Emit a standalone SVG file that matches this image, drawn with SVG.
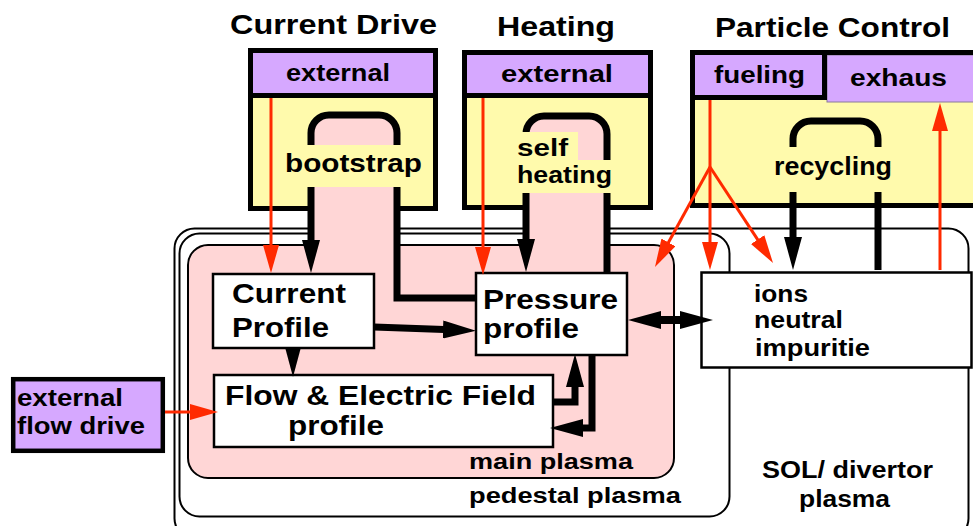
<svg xmlns="http://www.w3.org/2000/svg" width="973" height="526" viewBox="0 0 973 526">
<defs>
<style>
text{font-family:"Liberation Sans",Arial,sans-serif;font-weight:bold;fill:#000}
.t28{font-size:28px}
.t24{font-size:24px}
.t22{font-size:22px}
.outline{fill:none;stroke:#000;stroke-width:2}
.hdr{fill:#D6A8FF;stroke:#000;stroke-width:5}
.yel{fill:#FFFAAC;stroke:#000;stroke-width:5}
.box{fill:#fff;stroke:#000;stroke-width:2.5}
.band{fill:#FFD6D6;stroke:none}
.red{fill:none;stroke:#FF2A00;stroke-width:3}
.blk{fill:none;stroke:#000;stroke-width:7}
.lblbg{fill:#FFFAAC;stroke:none}
</style>
<marker id="redHead" viewBox="0 0 28 16" markerWidth="28" markerHeight="16" refX="1" refY="8" markerUnits="userSpaceOnUse" orient="auto">
<path d="M0,0 L28,8 L0,16 z" fill="#FF2A00"/>
</marker>
<marker id="blkHead" viewBox="0 0 33 18" markerWidth="33" markerHeight="18" refX="1" refY="9" markerUnits="userSpaceOnUse" orient="auto">
<path d="M0,0 L33,9 L0,18 z" fill="#000"/>
</marker>
<marker id="blkHead2" viewBox="0 0 33 18" markerWidth="33" markerHeight="18" refX="1" refY="9" markerUnits="userSpaceOnUse" orient="auto-start-reverse">
<path d="M0,0 L33,9 L0,18 z" fill="#000"/>
</marker>
</defs>
<rect width="973" height="526" fill="#fff"/>

<!-- plasma regions -->
<g id="sol-divertor">
<rect class="outline" x="174.5" y="228.5" width="794" height="310" rx="20"/>
<text x="762" y="478" textLength="171" lengthAdjust="spacingAndGlyphs" style="font-size:23px">SOL/ divertor</text>
<text x="799" y="507" textLength="91" lengthAdjust="spacingAndGlyphs" style="font-size:23px">plasma</text>
</g>
<g id="pedestal-plasma">
<rect class="outline" x="179.5" y="233.5" width="550" height="283" rx="20"/>
<text class="t22" x="469" y="503" textLength="212" lengthAdjust="spacingAndGlyphs">pedestal plasma</text>
</g>
<g id="main-plasma">
<rect x="188" y="245" width="486" height="233" rx="20" fill="#FFD6D6" stroke="#000" stroke-width="2"/>
<text class="t22" x="469" y="469" textLength="164" lengthAdjust="spacingAndGlyphs">main plasma</text>
</g>

<!-- top control boxes -->
<g id="current-drive">
<text class="t28" x="230" y="34" textLength="207" lengthAdjust="spacingAndGlyphs">Current Drive</text>
<rect class="yel" x="250.5" y="50.5" width="185" height="158"/>
<rect class="hdr" x="250.5" y="50.5" width="185" height="45"/>
<text class="t24" x="286" y="81" textLength="104" lengthAdjust="spacingAndGlyphs">external</text>
</g>
<g id="heating">
<text class="t28" x="497" y="36" textLength="118" lengthAdjust="spacingAndGlyphs">Heating</text>
<rect class="yel" x="464.5" y="52.5" width="186" height="155"/>
<rect class="hdr" x="464.5" y="52.5" width="186" height="43"/>
<text class="t24" x="501" y="82" textLength="112" lengthAdjust="spacingAndGlyphs">external</text>
</g>
<g id="particle-control">
<text class="t28" x="715" y="37" textLength="235" lengthAdjust="spacingAndGlyphs">Particle Control</text>
<rect class="yel" x="692.5" y="52.5" width="290" height="153"/>
<rect x="827" y="55" width="150" height="47" fill="#D6A8FF" stroke="#8a7a9a" stroke-width="1"/>
<line x1="827" y1="52.5" x2="973" y2="52.5" stroke="#000" stroke-width="5"/>
<text class="t24" x="850" y="86" textLength="97" lengthAdjust="spacingAndGlyphs">exhaus</text>
<rect x="692.5" y="52.5" width="132" height="45" fill="#D6A8FF" stroke="#000" stroke-width="5"/>
<text class="t24" x="714" y="83" textLength="91" lengthAdjust="spacingAndGlyphs">fueling</text>
</g>
<g id="external-flow-drive">
<rect x="13.2" y="379.2" width="149.6" height="71.6" fill="#D6A8FF" stroke="#000" stroke-width="4.5"/>
<text class="t24" x="17" y="406" textLength="106" lengthAdjust="spacingAndGlyphs">external</text>
<text class="t24" x="17" y="434" textLength="128" lengthAdjust="spacingAndGlyphs">flow drive</text>
</g>

<!-- loop bands -->
<g id="loop-bands">
<rect class="band" x="311" y="115" width="86" height="145" rx="18"/>
<rect class="band" x="526" y="116" width="81" height="157" rx="18"/>
</g>

<!-- profile nodes -->
<g id="current-profile">
<rect class="box" x="213" y="274" width="161" height="74"/>
<text class="t28" x="232" y="303" textLength="114" lengthAdjust="spacingAndGlyphs">Current</text>
<text class="t28" x="232" y="337" textLength="97" lengthAdjust="spacingAndGlyphs">Profile</text>
</g>
<g id="pressure-profile">
<rect class="box" x="476" y="273" width="151" height="82"/>
<text class="t28" x="483" y="309" textLength="135" lengthAdjust="spacingAndGlyphs">Pressure</text>
<text class="t28" x="483" y="338" textLength="96" lengthAdjust="spacingAndGlyphs">profile</text>
</g>
<g id="flow-electric-field">
<rect class="box" x="214" y="375" width="339" height="72"/>
<text class="t28" x="225" y="405" textLength="311" lengthAdjust="spacingAndGlyphs">Flow &amp; Electric Field</text>
<text class="t28" x="288" y="435" textLength="96" lengthAdjust="spacingAndGlyphs">profile</text>
</g>
<g id="ions-neutral-impurities">
<rect class="box" x="701.5" y="272.5" width="270" height="95"/>
<text class="t24" x="754" y="302" textLength="54" lengthAdjust="spacingAndGlyphs">ions</text>
<text class="t24" x="754" y="328" textLength="89" lengthAdjust="spacingAndGlyphs">neutral</text>
<text class="t24" x="755" y="356" textLength="115" lengthAdjust="spacingAndGlyphs">impuritie</text>
</g>

<!-- connectors -->
<g id="connectors">
<line class="red" x1="271" y1="98" x2="271" y2="246" marker-end="url(#redHead)"/>
<line class="red" x1="483" y1="98" x2="483" y2="248" marker-end="url(#redHead)"/>
<line class="red" x1="710" y1="100" x2="710" y2="243" marker-end="url(#redHead)"/>
<line class="red" x1="710" y1="167" x2="668" y2="243.3" marker-end="url(#redHead)"/>
<line class="red" x1="710" y1="167" x2="758.2" y2="240.4" marker-end="url(#redHead)"/>
<line class="red" x1="940" y1="270" x2="940" y2="130" marker-end="url(#redHead)"/>
<line class="red" x1="165" y1="412" x2="191" y2="412" marker-end="url(#redHead)"/>
<path class="blk" d="M476,298 H397 V133 A18,18 0 0 0 379,115 H329 A18,18 0 0 0 311,133 V241" marker-end="url(#blkHead)"/>
<path class="blk" d="M607,273 V134 A18,18 0 0 0 589,116 H544 A18,18 0 0 0 526,134 V240" marker-end="url(#blkHead)"/>
<path class="blk" d="M878,270 V139 A18,18 0 0 0 860,121 H811 A18,18 0 0 0 793,139 V238" marker-end="url(#blkHead)"/>
<polygon points="285.5,349 300.5,349 293,377" fill="#000"/>
<line class="blk" x1="374" y1="327" x2="444" y2="329.5" marker-end="url(#blkHead)"/>
<path class="blk" d="M553,402 H575 V386" marker-end="url(#blkHead)"/>
<path class="blk" d="M592,355 V428 H582" marker-end="url(#blkHead)"/>
<line class="blk" x1="660" y1="320" x2="681" y2="320" style="stroke-width:8" marker-start="url(#blkHead2)" marker-end="url(#blkHead2)"/>
</g>

<!-- loop labels -->
<g id="bootstrap">
<rect class="lblbg" x="303" y="145" width="102" height="42"/>
<text x="285" y="172" textLength="137" lengthAdjust="spacingAndGlyphs" style="font-size:25px">bootstrap</text>
</g>
<g id="self-heating">
<rect class="lblbg" x="513" y="132" width="65" height="29"/>
<rect class="lblbg" x="513" y="160" width="99" height="33"/>
<text x="517" y="156" textLength="51" lengthAdjust="spacingAndGlyphs" style="font-size:23px">self</text>
<text x="517" y="183" textLength="95" lengthAdjust="spacingAndGlyphs" style="font-size:23px">heating</text>
</g>
<g id="recycling">
<rect class="lblbg" x="770" y="147" width="125" height="45"/>
<text x="774" y="175" textLength="118" lengthAdjust="spacingAndGlyphs" style="font-size:25px">recycling</text>
</g>
</svg>
